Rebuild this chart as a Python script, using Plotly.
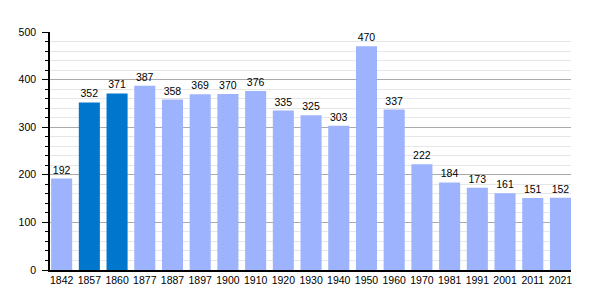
import plotly.graph_objects as go

years = ["1842", "1857", "1860", "1877", "1887", "1897", "1900", "1910", "1920", "1930",
         "1940", "1950", "1960", "1970", "1981", "1991", "2001", "2011", "2021"]
population = [192, 352, 371, 387, 358, 369, 370, 376, 335, 325,
              303, 470, 337, 222, 184, 173, 161, 151, 152]
highlight = ["1857", "1860"]

light = "#9db3fd"
dark = "#0077cc"
colors = [dark if y in highlight else light for y in years]

fig = go.Figure(go.Bar(
    x=years, y=population,
    marker=dict(color=colors, line=dict(width=0)),
    text=[str(v) for v in population],
    textposition="outside",
    textfont=dict(family="Liberation Sans, Arial, sans-serif", size=10.5, color="#000"),
    cliponaxis=False,
))

fig.update_layout(
    width=600, height=300,
    margin=dict(l=50, r=29, t=32, b=30),
    paper_bgcolor="white", plot_bgcolor="white",
    bargap=0.24,
    showlegend=False,
    font=dict(family="Liberation Sans, Arial, sans-serif", size=10.5, color="#000"),
)
fig.update_xaxes(
    type="category",
    range=[-0.42, 18.38],
    showline=True, linecolor="#000", linewidth=1.5,
    ticks="", showgrid=False,
    tickfont=dict(size=10.5),
    ticklabelstandoff=0,
)
fig.update_yaxes(
    range=[0, 500],
    tickvals=[0, 100, 200, 300, 400, 500],
    showline=True, linecolor="#000", linewidth=1.5,
    ticks="outside", ticklen=6, tickcolor="#000",
    showgrid=True, gridcolor="#aaaaaa", gridwidth=1,
    zeroline=False,
    tickfont=dict(size=10.5),
    ticklabelstandoff=4,
    minor=dict(dtick=20, ticks="outside", ticklen=3, tickcolor="#000",
               showgrid=True, gridcolor="#e6e6e6", gridwidth=1),
)

fig.write_html("out.html")
